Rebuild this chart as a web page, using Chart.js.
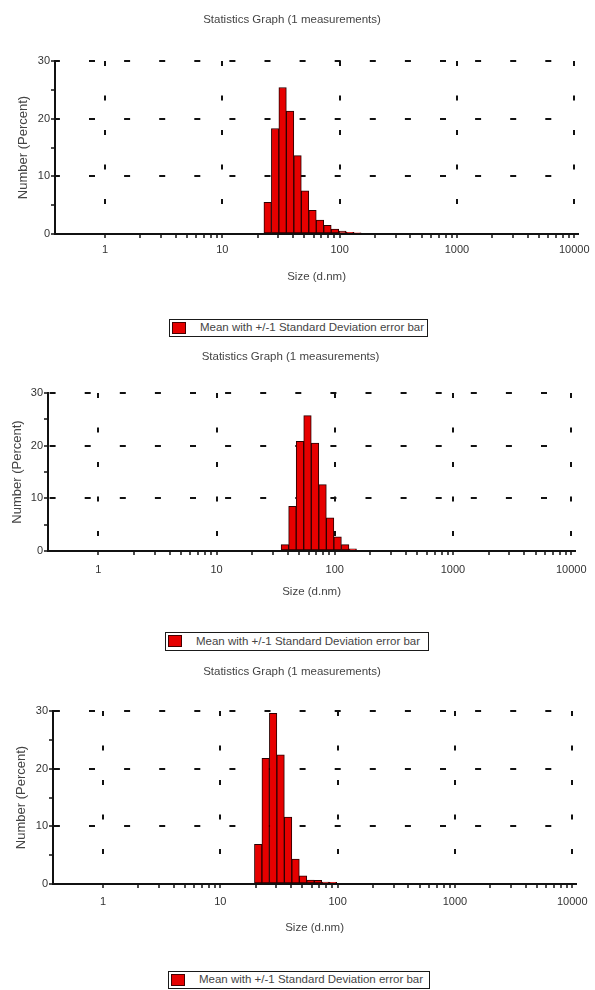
<!DOCTYPE html>
<html>
<head>
<meta charset="utf-8">
<script src="https://cdn.jsdelivr.net/npm/chart.js@4.4.1/dist/chart.umd.min.js"></script>
<style>
html, body { margin: 0; padding: 0; background: #fff; }
body { width: 595px; height: 990px; position: relative; overflow: hidden; font-family: 'Liberation Sans', Arial, sans-serif; }
canvas { position: absolute; left: 0; }
.legend { position: absolute; border: 1.5px solid #1a1a1a; box-sizing: border-box; background: #fff; white-space: nowrap; }
.legend .sw { position: absolute; left: 2px; top: 1.5px; width: 14px; height: 12px; background: #e60000; border: 1px solid #400; box-sizing: border-box; }
.legend .tx { position: absolute; left: 30px; top: 0; font-size: 11.5px; color: #444; }
</style>
</head>
<body>
<canvas id="c1" width="595" height="300"></canvas>
<canvas id="c2" width="595" height="270"></canvas>
<canvas id="c3" width="595" height="290"></canvas>
<script>
// texts
const chartTitle = 'Statistics Graph (1 measurements)';
const xTitle = 'Size (d.nm)';
const yTitle = 'Number (Percent)';
const legendLabel = 'Mean with +/-1 Standard Deviation error bar';

// axes
const xMin = 0.375;
const xMax = 10800;
const xTickValues = [1, 2, 3, 4, 5, 6, 7, 8, 9,
  10, 20, 30, 40, 50, 60, 70, 80, 90,
  100, 200, 300, 400, 500, 600, 700, 800, 900,
  1000, 2000, 3000, 4000, 5000, 6000, 7000, 8000, 9000, 10000];
const xLabelValues = [1, 10, 100, 1000, 10000];
const yLabelValues = [0, 10, 20, 30];

// size classes (d.nm) and number %, one pair per graph
const sizes1 = [24.36, 28.21, 32.67, 37.84, 43.82, 50.75, 58.77, 68.06, 78.82, 91.28, 105.7, 122.4, 141.8];
const number1 = [5.5, 18.3, 25.4, 21.3, 13.6, 7.5, 4.1, 2.4, 1.5, 0.85, 0.5, 0.3, 0.2];

const sizes2 = [37.84, 43.82, 50.75, 58.77, 68.06, 78.82, 91.28, 105.7, 122.4, 141.8];
const number2 = [1.2, 8.5, 20.8, 25.7, 20.5, 12.6, 6.3, 2.7, 1.2, 0.4];

const sizes3 = [21.04, 24.36, 28.21, 32.67, 37.84, 43.82, 50.75, 58.77, 68.06, 78.82, 91.28];
const number3 = [6.9, 21.8, 29.6, 22.4, 11.6, 4.3, 1.4, 0.7, 0.65, 0.35, 0.3];

const FONT = "'Liberation Sans', Arial, sans-serif";
const INK = '#111';
const NONE = 'rgba(0,0,0,0)';

// page layout of each graph (absolute page pixels)
const layout1 = { top: 0, height: 300, titleY: 20, plotTop: 61, plotBottom: 234, axisLeft: 55, plotRight: 584,
  yTitleX: 23, xLabelY: 250, xTitleY: 277, hDashOffset: 2.1, legend: { x: 169, y: 319, w: 259, h: 18 } };
const layout2 = { top: 340, height: 270, titleY: 357, plotTop: 393, plotBottom: 551, axisLeft: 48, plotRight: 581,
  yTitleX: 17, xLabelY: 570, xTitleY: 592, hDashOffset: 34.5, legend: { x: 165, y: 632, w: 264, h: 19 } };
const layout3 = { top: 655, height: 290, titleY: 672, plotTop: 711, plotBottom: 884, axisLeft: 53, plotRight: 584,
  yTitleX: 21, xLabelY: 902, xTitleY: 928, hDashOffset: 0.1, legend: { x: 168, y: 971, w: 262, h: 18 } };

function addLegend(g) {
  const box = document.createElement('div');
  box.className = 'legend';
  box.style.left = g.legend.x + 'px';
  box.style.top = g.legend.y + 'px';
  box.style.width = g.legend.w + 'px';
  box.style.height = g.legend.h + 'px';
  const sw = document.createElement('span');
  sw.className = 'sw';
  const tx = document.createElement('span');
  tx.className = 'tx';
  tx.style.lineHeight = (g.legend.h - 3) + 'px';
  tx.textContent = legendLabel;
  box.appendChild(sw);
  box.appendChild(tx);
  document.body.appendChild(box);
}

function makeChart(id, sizes, values, g) {
  const el = document.getElementById(id);
  el.style.top = g.top + 'px';
  const H = g.height;

  new Chart(el, {
    type: 'bar',
    data: {
      datasets: [{
        label: legendLabel,
        data: sizes.map((s, i) => ({ x: s, y: values[i] })),
        backgroundColor: '#e60000',
        borderColor: '#2a0000',
        borderWidth: 1,
        borderSkipped: false,
        barThickness: 'flex',
        categoryPercentage: 1,
        barPercentage: 1
      }]
    },
    options: {
      responsive: false,
      animation: false,
      layout: { padding: { left: 0, top: 0, right: 595 - g.plotRight, bottom: 0 } },
      plugins: {
        legend: { display: false },
        tooltip: { enabled: false },
        title: {
          display: true,
          text: chartTitle,
          color: '#444',
          font: { family: FONT, size: 11.5, weight: 'normal' },
          padding: { top: g.titleY - g.top - 6.9, bottom: g.plotTop - g.titleY - 6.9 }
        }
      },
      scales: {
        x: {
          type: 'logarithmic',
          min: xMin,
          max: xMax,
          offset: false,
          afterBuildTicks: (s) => { s.ticks = xTickValues.map(v => ({ value: v })); },
          afterFit: (s) => { s.height = g.top + H - g.plotBottom; },
          grid: {
            offset: false,
            color: (c) => (c.tick && xLabelValues.includes(c.tick.value)) ? INK : NONE,
            lineWidth: 2,
            tickLength: 4,
            tickWidth: 1.5,
            tickColor: INK
          },
          border: { display: true, color: INK, width: 2, dash: [5, 29.5], dashOffset: 0 },
          ticks: {
            autoSkip: false,
            maxRotation: 0,
            minRotation: 0,
            padding: g.xLabelY - g.plotBottom - 4 - 6.6,
            color: '#333',
            font: { family: FONT, size: 11 },
            callback: (v) => xLabelValues.includes(v) ? String(v) : ''
          },
          title: {
            display: true,
            text: xTitle,
            color: '#444',
            font: { family: FONT, size: 11.5 },
            padding: { top: 0, bottom: g.top + H - g.xTitleY - 6.9 }
          }
        },
        y: {
          min: 0,
          max: 30,
          afterFit: (s) => { s.width = g.axisLeft; },
          grid: {
            color: (c) => (c.tick && c.tick.value > 0 && yLabelValues.includes(c.tick.value)) ? INK : NONE,
            lineWidth: 2,
            tickLength: 4,
            tickWidth: 1.5,
            tickColor: INK
          },
          border: { display: true, color: INK, width: 2, dash: [6, 29.1], dashOffset: g.hDashOffset },
          ticks: {
            stepSize: 5,
            padding: 1,
            color: '#333',
            font: { family: FONT, size: 11 },
            callback: (v) => yLabelValues.includes(v) ? String(v) : ''
          },
          title: {
            display: true,
            text: yTitle,
            color: '#444',
            font: { family: FONT, size: 13 },
            padding: { top: g.yTitleX - 7.8, bottom: 0 }
          }
        }
      }
    }
  });
  addLegend(g);
}

makeChart('c1', sizes1, number1, layout1);
makeChart('c2', sizes2, number2, layout2);
makeChart('c3', sizes3, number3, layout3);
</script>
</body>
</html>
